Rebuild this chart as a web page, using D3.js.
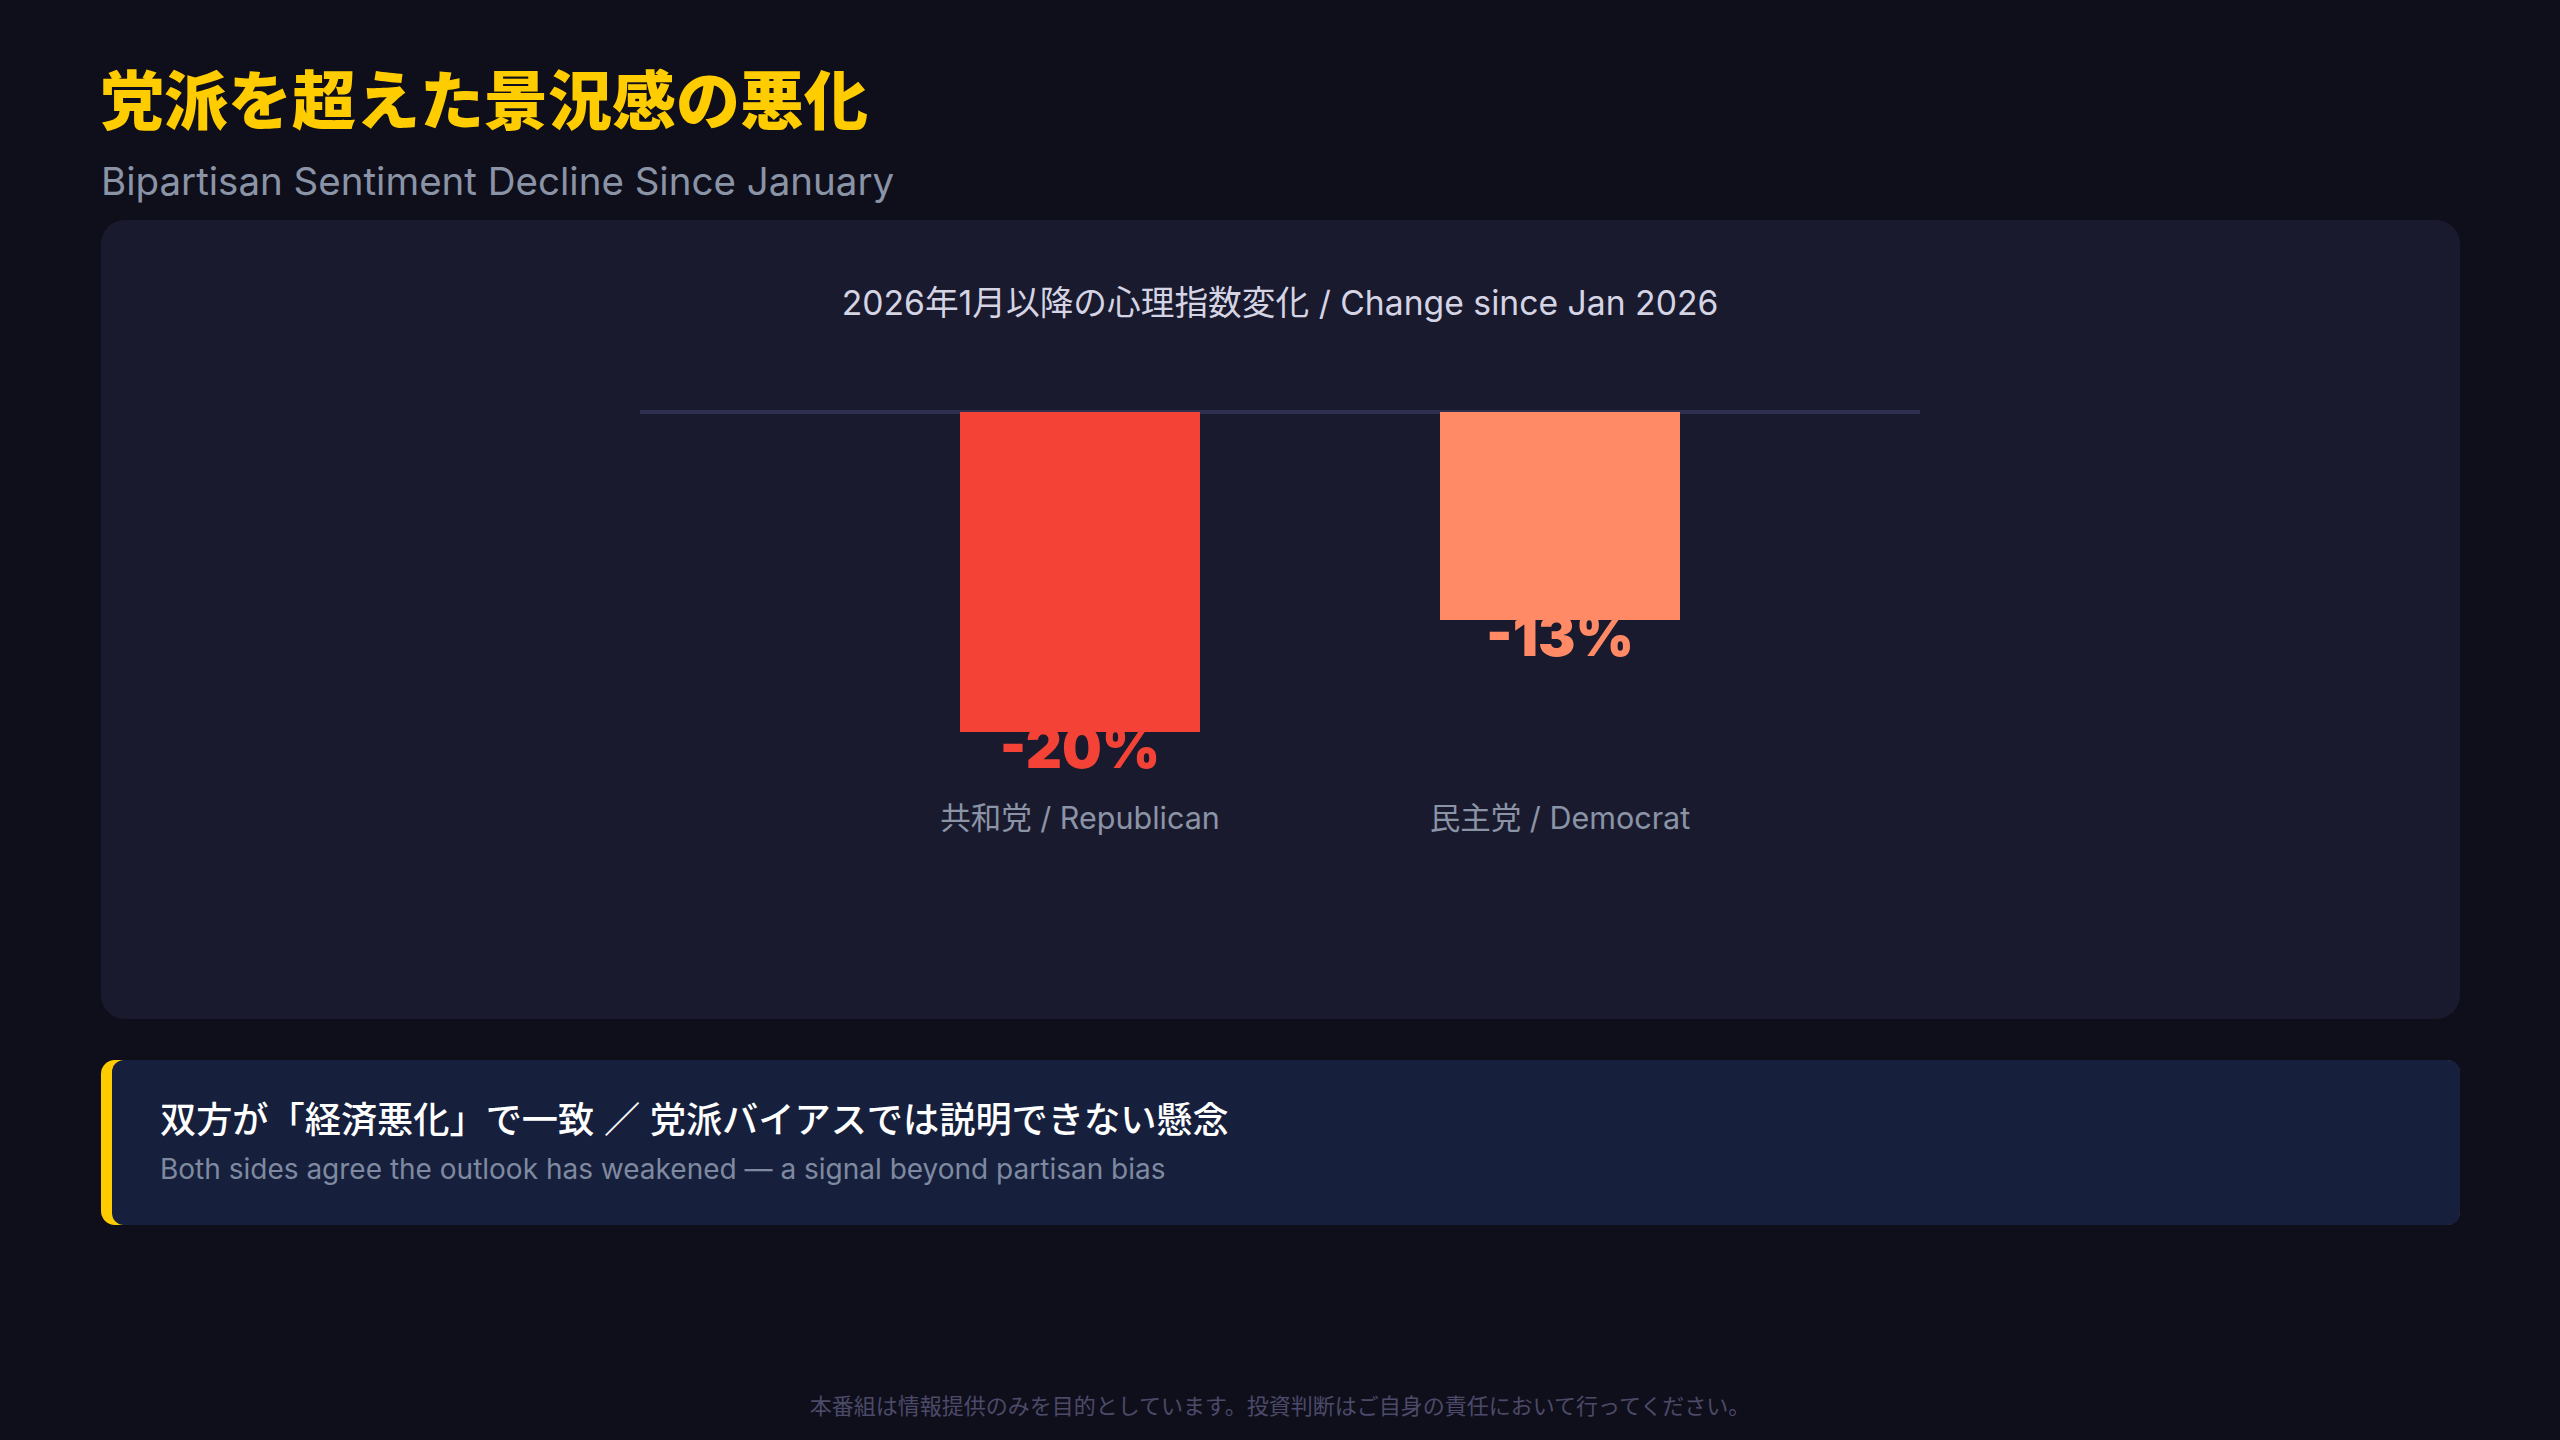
<!DOCTYPE html>
<html>
<head>
<meta charset="utf-8">
<script src="https://cdn.jsdelivr.net/npm/d3@7"></script>
<style>
  html, body { margin: 0; padding: 0; background: #0f0f1c; }
  svg { display: block; }
</style>
</head>
<body>
<svg id="chart" width="2560" height="1440"></svg>
<script>
// ---- Data ----
const categories = ["共和党 / Republican", "民主党 / Democrat"];
const values = [-20, -13];
const valueLabels = ["-20%", "-13%"];
const titleText = "党派を超えた景況感の悪化";
const subtitleText = "Bipartisan Sentiment Decline Since January";
const chartTitleText = "2026年1月以降の心理指数変化 / Change since Jan 2026";
const calloutTitle = "双方が「経済悪化」で一致 ／ 党派バイアスでは説明できない懸念";
const calloutSub = "Both sides agree the outlook has weakened — a signal beyond partisan bias";
const footerText = "本番組は情報提供のみを目的としています。投資判断はご自身の責任において行ってください。";

// ---- Styles ----
const barColors = ["#f44336", "#ff8a65"];
const fontLatin = "Inter, 'Noto Sans CJK JP', sans-serif";
const fontJP = "'Noto Sans CJK JP', Inter, sans-serif";

const svg = d3.select("#chart");

// background
svg.append("rect").attr("width", 2560).attr("height", 1440).attr("fill", "#0f0f1c");

// Title
svg.append("text").attr("x", 100).attr("y", 124)
  .attr("font-family", fontJP).attr("font-weight", 900).attr("font-size", 64)
  .attr("fill", "#ffcc00").text(titleText);

svg.append("text").attr("x", 101).attr("y", 195)
  .attr("font-family", fontLatin).attr("font-weight", 400).attr("font-size", 38.5)
  .attr("fill", "#8a94a6").text(subtitleText);

// Panel
svg.append("rect").attr("x", 101).attr("y", 220).attr("width", 2359).attr("height", 799)
  .attr("rx", 24).attr("fill", "#1a1a2e");

svg.append("text").attr("x", 1280).attr("y", 315).attr("text-anchor", "middle")
  .attr("font-family", fontLatin).attr("font-weight", 400).attr("font-size", 33.7)
  .attr("fill", "#d4d4e4").text(chartTitleText);

// Scales
const x = d3.scaleBand().domain(categories).range([720, 1920]).padding(0.5);
const y = d3.scaleLinear().domain([-25, 0]).range([812, 412]);
const color = d3.scaleOrdinal().domain(categories).range(barColors);

// zero line
svg.append("line").attr("x1", 640).attr("x2", 1920).attr("y1", y(0)).attr("y2", y(0))
  .attr("stroke", "#2f2f4f").attr("stroke-width", 4);

const data = categories.map((c, i) => ({ c, v: values[i], label: valueLabels[i] }));

// value labels (drawn under bars)
svg.append("g").selectAll("text").data(data).join("text")
  .attr("x", d => x(d.c) + x.bandwidth() / 2)
  .attr("y", d => y(d.v) + 36)
  .attr("text-anchor", "middle")
  .attr("font-family", fontLatin).attr("font-weight", 900).attr("font-size", 56)
  .attr("fill", d => color(d.c)).text(d => d.label);

// bars
svg.append("g").selectAll("rect").data(data).join("rect")
  .attr("x", d => x(d.c)).attr("width", x.bandwidth())
  .attr("y", y(0)).attr("height", d => y(d.v) - y(0))
  .attr("fill", d => color(d.c));

// category labels
svg.append("g").selectAll("text").data(data).join("text")
  .attr("x", d => x(d.c) + x.bandwidth() / 2)
  .attr("y", 829)
  .attr("text-anchor", "middle")
  .attr("font-family", fontLatin).attr("font-size", 30.5)
  .attr("fill", "#8a94a6").text(d => d.c);

// Callout
const callout = svg.append("g");
callout.append("rect").attr("x", 101).attr("y", 1060).attr("width", 2359).attr("height", 165)
  .attr("rx", 14).attr("fill", "#ffcc00");
callout.append("rect").attr("x", 112).attr("y", 1060).attr("width", 2348).attr("height", 165)
  .attr("rx", 12).attr("fill", "#16203d");
callout.append("text").attr("x", 160).attr("y", 1133)
  .attr("font-family", fontLatin).attr("font-weight", 500).attr("font-size", 36.2)
  .attr("fill", "#ffffff").text(calloutTitle);
callout.append("text").attr("x", 160).attr("y", 1179)
  .attr("font-family", fontLatin).attr("font-size", 28)
  .attr("fill", "#7f8aa0").text(calloutSub);

// Footer
svg.append("text").attr("x", 1280).attr("y", 1414).attr("text-anchor", "middle")
  .attr("font-family", fontJP).attr("font-size", 22)
  .attr("fill", "#4c4a68").text(footerText);
</script>
</body>
</html>
